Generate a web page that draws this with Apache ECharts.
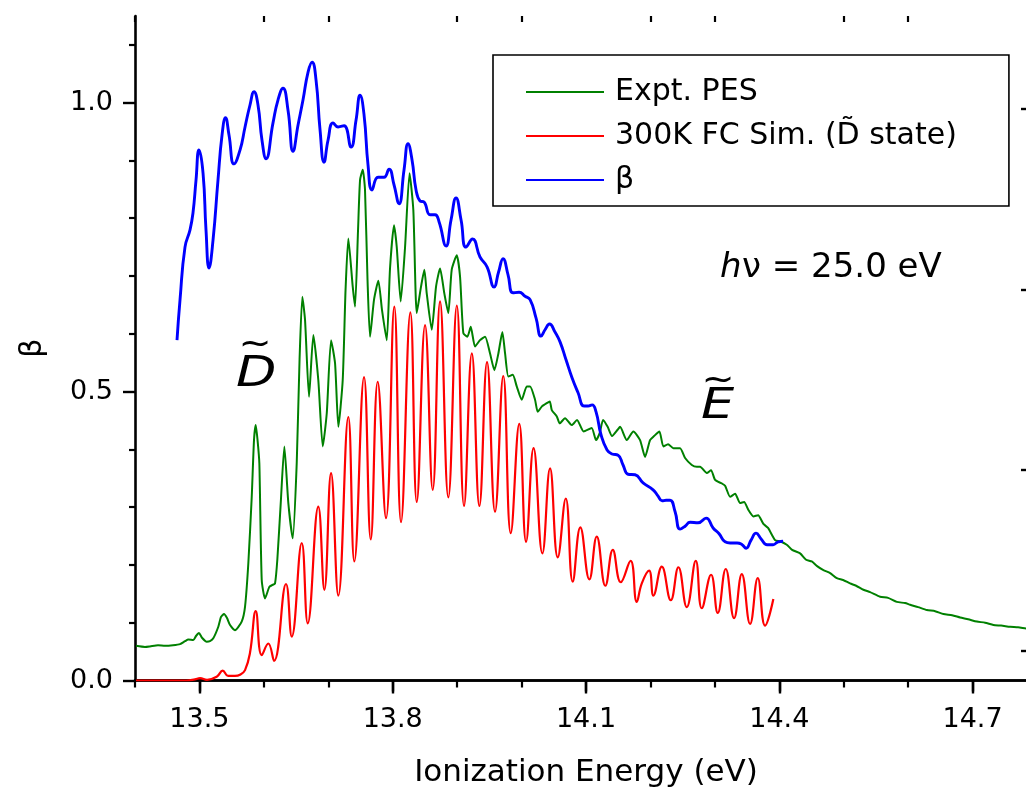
<!DOCTYPE html>
<html>
<head>
<meta charset="utf-8">
<script src="https://cdn.jsdelivr.net/npm/echarts@6/dist/echarts.min.js"></script>
<style>
html,body{margin:0;padding:0;background:#fff;overflow:hidden;}
#chart{width:1026px;height:794px;}
</style>
</head>
<body>
<div id="chart"></div>
<script>
// ---- tick values ----
const xMajorTicks = [13.5, 13.8, 14.1, 14.4, 14.7];
const xMinorTicks = [13.4, 13.6, 13.7, 13.9, 14.0, 14.2, 14.3, 14.5, 14.6, 14.8];
const yMajorTicks = [0, 0.5, 1.0];
const yMinorTicks = [0.1, 0.2, 0.3, 0.4, 0.6, 0.7, 0.8, 0.9, 1.1];
const rightTicks = [0.051, 0.364, 0.677, 0.99];

// ---- series names ----
const seriesNames = ['Expt. PES', '300K FC Sim. (D\u0303 state)', '\u03b2'];

// ---- Expt. PES (green) ----
const pes = [
[13.4016,0.060],[13.4155,0.058],[13.4233,0.059],[13.4357,0.061],[13.4466,0.060],[13.4590,0.061],
[13.4699,0.063],[13.4776,0.068],[13.4827,0.071],[13.4905,0.070],[13.4947,0.077],[13.4993,0.082],
[13.5040,0.074],[13.5113,0.067],[13.5164,0.068],[13.5215,0.073],[13.5293,0.093],[13.5335,0.110],
[13.5382,0.115],[13.5428,0.108],[13.5475,0.096],[13.5552,0.087],[13.5656,0.102],[13.5708,0.128],
[13.5759,0.203],[13.5812,0.318],[13.5847,0.416],[13.5874,0.442],[13.5902,0.416],[13.5930,0.376],
[13.5967,0.174],[13.6018,0.142],[13.6085,0.162],[13.6127,0.165],[13.6173,0.168],[13.6209,0.209],
[13.6262,0.307],[13.6318,0.405],[13.6380,0.307],[13.6448,0.246],[13.6510,0.376],[13.6554,0.555],
[13.6597,0.664],[13.6639,0.624],[13.6701,0.491],[13.6768,0.598],[13.6845,0.520],[13.6914,0.405],
[13.6976,0.462],[13.7043,0.589],[13.7105,0.549],[13.7156,0.439],[13.7224,0.520],[13.7268,0.676],
[13.7311,0.765],[13.7379,0.682],[13.7415,0.647],[13.7462,0.780],[13.7493,0.866],[13.7535,0.884],
[13.7570,0.849],[13.7609,0.693],[13.7648,0.595],[13.7710,0.659],[13.7777,0.692],[13.7834,0.641],
[13.7907,0.589],[13.7958,0.713],[13.8020,0.788],[13.8062,0.751],[13.8124,0.656],[13.8191,0.749],
[13.8261,0.878],[13.8320,0.814],[13.8373,0.636],[13.8440,0.682],[13.8491,0.711],[13.8528,0.670],
[13.8606,0.607],[13.8673,0.682],[13.8735,0.713],[13.8801,0.670],[13.8863,0.636],[13.8916,0.711],
[13.8994,0.736],[13.9045,0.699],[13.9096,0.601],[13.9158,0.595],[13.9211,0.612],[13.9278,0.578],
[13.9355,0.589],[13.9433,0.595],[13.9511,0.566],[13.9578,0.537],[13.9640,0.566],[13.9702,0.603],
[13.9744,0.566],[13.9795,0.526],[13.9863,0.529],[13.9925,0.509],[14.0003,0.486],[14.0081,0.509],
[14.0132,0.509],[14.0209,0.486],[14.0251,0.465],[14.0313,0.474],[14.0391,0.480],[14.0438,0.483],
[14.0469,0.468],[14.0547,0.457],[14.0593,0.445],[14.0675,0.454],[14.0779,0.442],[14.0861,0.451],
[14.0964,0.431],[14.1088,0.437],[14.1156,0.416],[14.1212,0.428],[14.1265,0.451],[14.1336,0.439],
[14.1404,0.423],[14.1491,0.434],[14.1529,0.439],[14.1633,0.416],[14.1735,0.431],[14.1839,0.416],
[14.1917,0.387],[14.1994,0.416],[14.2056,0.423],[14.2139,0.431],[14.2201,0.405],[14.2274,0.409],
[14.2356,0.402],[14.2460,0.402],[14.2538,0.385],[14.2642,0.373],[14.2720,0.370],[14.2771,0.370],
[14.2875,0.359],[14.2941,0.364],[14.3004,0.347],[14.3108,0.341],[14.3159,0.337],[14.3237,0.318],
[14.3314,0.323],[14.3392,0.307],[14.3454,0.309],[14.3521,0.295],[14.3598,0.284],[14.3671,0.286],
[14.3753,0.271],[14.3826,0.264],[14.3935,0.243],[14.4012,0.241],[14.4116,0.235],[14.4199,0.226],
[14.4323,0.220],[14.4416,0.209],[14.4504,0.206],[14.4587,0.198],[14.4685,0.191],[14.4789,0.186],
[14.4893,0.177],[14.4991,0.174],[14.5099,0.168],[14.5193,0.164],[14.5306,0.157],[14.5410,0.153],
[14.5565,0.145],[14.5689,0.143],[14.5824,0.136],[14.5953,0.134],[14.6031,0.131],[14.6155,0.127],
[14.6290,0.122],[14.6419,0.120],[14.6548,0.115],[14.6683,0.113],[14.6807,0.109],[14.6931,0.106],
[14.7066,0.102],[14.7195,0.100],[14.7324,0.096],[14.7443,0.095],[14.7583,0.093],[14.7707,0.092],
[14.7831,0.090],[14.8000,0.088]
];

// ---- 300K FC simulation (red) ----
const fcSim = [
[13.4016,0.000],[13.4792,0.000],[13.4931,0.002],[13.5009,0.004],[13.5118,0.001],[13.5273,0.007],
[13.5361,0.017],[13.5444,0.008],[13.5552,0.008],[13.5630,0.010],[13.5708,0.018],[13.5785,0.048],
[13.5874,0.120],[13.5967,0.044],[13.6069,0.064],[13.6158,0.034],[13.6344,0.167],[13.6433,0.076],
[13.6588,0.238],[13.6681,0.099],[13.6845,0.301],[13.6939,0.157],[13.7043,0.359],[13.7156,0.147],
[13.7311,0.456],[13.7404,0.206],[13.7555,0.525],[13.7659,0.244],[13.7767,0.517],[13.7896,0.281],
[13.8025,0.647],[13.8129,0.274],[13.8274,0.637],[13.8373,0.309],[13.8502,0.615],[13.8621,0.330],
[13.8735,0.656],[13.8863,0.317],[13.8995,0.649],[13.9107,0.302],[13.9228,0.566],[13.9345,0.302],
[13.9464,0.551],[13.9588,0.292],[13.9716,0.527],[13.9832,0.255],[13.9964,0.444],[14.0070,0.240],
[14.0186,0.402],[14.0323,0.220],[14.0442,0.367],[14.0562,0.213],[14.0686,0.315],[14.0794,0.171],
[14.0912,0.265],[14.1052,0.175],[14.1167,0.249],[14.1301,0.164],[14.1416,0.226],[14.1540,0.170],
[14.1692,0.207],[14.1788,0.136],[14.1866,0.168],[14.1979,0.190],[14.2046,0.147],[14.2176,0.197],
[14.2316,0.139],[14.2434,0.196],[14.2564,0.127],[14.2704,0.207],[14.2797,0.125],[14.2941,0.183],
[14.3045,0.117],[14.3169,0.193],[14.3298,0.108],[14.3418,0.184],[14.3547,0.098],[14.3666,0.177],
[14.3780,0.095],[14.3908,0.141]
];

// ---- beta (blue) ----
const beta = [
[13.4652,0.589],[13.4699,0.659],[13.4776,0.750],[13.4854,0.780],[13.4900,0.809],[13.4947,0.866],
[13.4993,0.918],[13.5056,0.878],[13.5102,0.780],[13.5149,0.714],[13.5211,0.762],[13.5288,0.866],
[13.5351,0.944],[13.5405,0.974],[13.5459,0.944],[13.5537,0.894],[13.5630,0.918],[13.5708,0.958],
[13.5785,0.996],[13.5847,1.019],[13.5909,0.996],[13.5971,0.935],[13.6034,0.903],[13.6142,0.965],
[13.6220,1.005],[13.6297,1.025],[13.6375,0.987],[13.6453,0.916],[13.6530,0.961],[13.6608,1.005],
[13.6686,1.053],[13.6748,1.070],[13.6810,1.039],[13.6872,0.953],[13.6934,0.897],[13.6996,0.935],
[13.7074,0.965],[13.7152,0.958],[13.7244,0.960],[13.7353,0.923],[13.7431,0.970],[13.7493,1.013],
[13.7555,0.979],[13.7617,0.892],[13.7679,0.849],[13.7772,0.871],[13.7865,0.871],[13.7943,0.885],
[13.8020,0.858],[13.8098,0.825],[13.8176,0.884],[13.8238,0.929],[13.8300,0.901],[13.8362,0.849],
[13.8424,0.830],[13.8486,0.828],[13.8579,0.806],[13.8657,0.806],[13.8719,0.794],[13.8828,0.752],
[13.8905,0.797],[13.8983,0.835],[13.9061,0.797],[13.9138,0.750],[13.9239,0.764],[13.9355,0.733],
[13.9464,0.716],[13.9573,0.681],[13.9643,0.707],[13.9713,0.730],[13.9790,0.702],[13.9868,0.671],
[13.9961,0.672],[14.0054,0.665],[14.0132,0.659],[14.0225,0.627],[14.0302,0.596],[14.0364,0.607],
[14.0434,0.617],[14.0519,0.603],[14.0597,0.586],[14.0690,0.555],[14.0783,0.524],[14.0877,0.498],
[14.0970,0.475],[14.1032,0.475],[14.1094,0.477],[14.1156,0.465],[14.1234,0.425],[14.1327,0.399],
[14.1405,0.392],[14.1498,0.390],[14.1575,0.373],[14.1653,0.357],[14.1762,0.356],[14.1886,0.342],
[14.2041,0.330],[14.2119,0.319],[14.2181,0.311],[14.2243,0.312],[14.2305,0.312],[14.2383,0.292],
[14.2460,0.262],[14.2538,0.267],[14.2616,0.274],[14.2740,0.273],[14.2864,0.281],[14.2973,0.264],
[14.3066,0.254],[14.3159,0.240],[14.3237,0.238],[14.3345,0.238],[14.3423,0.235],[14.3485,0.229],
[14.3562,0.243],[14.3640,0.255],[14.3718,0.245],[14.3811,0.235],[14.3904,0.235],[14.3982,0.240],
[14.4059,0.241]
];

const FONT = '"DejaVu Sans", sans-serif';
const chart = echarts.init(document.getElementById('chart'), null, {renderer: 'canvas'});
const axisLineStyle = {color: '#000', width: 2.6};
const fmt1 = v => Number(v).toFixed(1);

const option = {
  animation: false,
  backgroundColor: '#fff',
  grid: {left: 135, top: 16, width: 902, height: 664.5, containLabel: false, outerBoundsMode: 'none'},
  xAxis: [
    {type: 'value', position: 'bottom', min: 13.4, max: 14.8,
     axisLine: {show: true, lineStyle: axisLineStyle},
     axisTick: {show: true, inside: false, length: 13, lineStyle: {width: 2.4, color: '#000'}, customValues: xMajorTicks},
     axisLabel: {show: true, customValues: xMajorTicks, formatter: fmt1, color: '#000', fontFamily: FONT, fontSize: 27, margin: 26},
     splitLine: {show: false},
     name: 'Ionization Energy (eV)', nameLocation: 'middle', nameGap: 77,
     nameTextStyle: {color: '#000', fontFamily: FONT, fontSize: 31}},
    {type: 'value', position: 'bottom', min: 13.4, max: 14.8,
     axisLine: {show: false},
     axisTick: {show: true, inside: false, length: 7, lineStyle: {width: 2.2, color: '#000'}, customValues: xMinorTicks},
     axisLabel: {show: false}, splitLine: {show: false}},
    {type: 'value', position: 'top', min: 13.4, max: 14.8,
     axisLine: {show: true, lineStyle: axisLineStyle},
     axisTick: {show: true, inside: true, length: 11, lineStyle: {width: 2.4, color: '#000'}, customValues: xMajorTicks},
     axisLabel: {show: false}, splitLine: {show: false}},
    {type: 'value', position: 'top', min: 13.4, max: 14.8,
     axisLine: {show: false},
     axisTick: {show: true, inside: true, length: 6, lineStyle: {width: 2.2, color: '#000'}, customValues: xMinorTicks},
     axisLabel: {show: false}, splitLine: {show: false}}
  ],
  yAxis: [
    {type: 'value', position: 'left', min: 0, max: 1.15,
     axisLine: {show: true, lineStyle: axisLineStyle},
     axisTick: {show: true, inside: false, length: 12, lineStyle: {width: 2.4, color: '#000'}, customValues: yMajorTicks},
     axisLabel: {show: true, customValues: yMajorTicks, formatter: fmt1, color: '#000', fontFamily: FONT, fontSize: 27, margin: 22},
     splitLine: {show: false},
     name: '\u03b2', nameLocation: 'middle', nameRotate: 90, nameGap: 87,
     nameTextStyle: {color: '#000', fontFamily: FONT, fontSize: 30}},
    {type: 'value', position: 'left', min: 0, max: 1.15,
     axisLine: {show: false},
     axisTick: {show: true, inside: false, length: 6, lineStyle: {width: 2.2, color: '#000'}, customValues: yMinorTicks},
     axisLabel: {show: false}, splitLine: {show: false}},
    {type: 'value', position: 'right', min: 0, max: 1.15,
     axisLine: {show: true, lineStyle: axisLineStyle},
     axisTick: {show: true, inside: true, length: 16, lineStyle: {width: 2.4, color: '#000'}, customValues: rightTicks},
     axisLabel: {show: false}, splitLine: {show: false}}
  ],
  legend: {
    left: 493, top: 55, orient: 'vertical',
    data: seriesNames,
    icon: 'rect', itemWidth: 78, itemHeight: 2, itemGap: 14,
    padding: [22, 52, 11, 33],
    borderColor: '#000', borderWidth: 1.6, backgroundColor: '#fff',
    textStyle: {color: '#000', fontFamily: FONT, fontSize: 30, lineHeight: 30, padding: [0, 0, 0, 6]}
  },
  series: [
    {name: seriesNames[0], type: 'line', data: pes, showSymbol: false, symbol: 'none', smooth: 0.2,
     lineStyle: {color: '#008000', width: 2}, itemStyle: {color: '#008000'}, z: 3},
    {name: seriesNames[1], type: 'line', data: fcSim, showSymbol: false, symbol: 'none', smooth: 0.45,
     lineStyle: {color: '#ff0000', width: 2.2}, itemStyle: {color: '#ff0000'}, z: 4},
    {name: seriesNames[2], type: 'line', data: beta, showSymbol: false, symbol: 'none', smooth: 0.5,
     lineStyle: {color: '#0000ff', width: 2.9}, itemStyle: {color: '#0000ff'}, z: 5}
  ],
  graphic: [
    {type: 'text', x: 236, y: 375, scaleX: 1.25, style: {text: 'D', font: 'italic 42px ' + FONT, fill: '#000', textAlign: 'left', textVerticalAlign: 'middle'}},
    {type: 'text', x: 255, y: 346, scaleX: 1.1, style: {text: '~', font: '36px ' + FONT, fill: '#000', textAlign: 'center', textVerticalAlign: 'middle'}},
    {type: 'text', x: 701, y: 407, scaleX: 1.25, style: {text: 'E', font: 'italic 42px ' + FONT, fill: '#000', textAlign: 'left', textVerticalAlign: 'middle'}},
    {type: 'text', x: 718, y: 382, scaleX: 1.1, style: {text: '~', font: '36px ' + FONT, fill: '#000', textAlign: 'center', textVerticalAlign: 'middle'}},
    {type: 'text', x: 720, y: 268, style: {text: 'h', font: 'italic 34px ' + FONT, fill: '#000', textAlign: 'left', textVerticalAlign: 'middle'}},
    {type: 'text', x: 742, y: 268, style: {text: '\u03bd = 25.0 eV', font: '34px ' + FONT, fill: '#000', textAlign: 'left', textVerticalAlign: 'middle'}}
  ]
};
chart.setOption(option);
</script>
</body>
</html>
